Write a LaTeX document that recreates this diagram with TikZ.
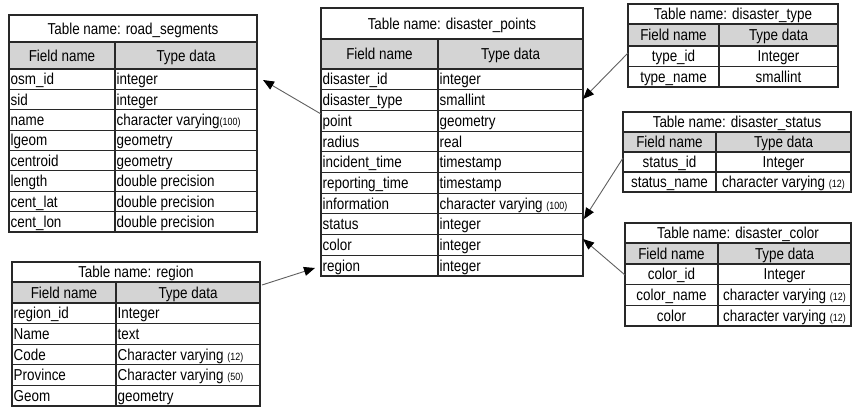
\documentclass[tikz,border=0pt]{standalone}
\usepackage{fontspec}
\setmainfont{Liberation Sans}[FakeStretch=0.85]
\usetikzlibrary{arrows.meta,fit}
\definecolor{hdr}{RGB}{212,212,212}
\definecolor{rulec}{RGB}{40,40,40}
\definecolor{arrc}{RGB}{95,95,95}
\newcommand{\sm}[1]{{\fontsize{10.5}{10.5}\selectfont #1}}
\tikzset{
  tblbox/.style={draw=rulec, line width=1.1pt, inner sep=0pt},
  tblline/.style={draw=rulec, line width=1.1pt},
  cell/.style={inner sep=1pt, font=\fontsize{15.8}{15.8}\selectfont, text=black},
  link/.style={draw=arrc, line width=0.9pt, -{Triangle[length=11pt,width=9pt,color=black]}}
}
% #1 id, #2 xl, #3 xdiv, #4 xr, #5 ytop, #6 title bottom, #7 header bottom, #8 ybottom, #9 title
\newcommand{\dbframe}[9]{%
  \fill[hdr] (#2,#6) rectangle (#4,#7);
  \draw[tblline] (#2,#6) -- (#4,#6);
  \draw[tblline] (#2,#7) -- (#4,#7);
  \draw[tblline] (#3,#6) -- (#3,#8);
  \node[tblbox, fit={(#2,#5) (#4,#8)}] (#1) {};
  \node[cell, anchor=base] (#1-title) at ({(#2+#4)/2},{(#5+#6)/2+5.6}) {#9};
  \node[cell, anchor=base] (#1-fh) at ({(#2+#3)/2},{(#6+#7)/2+5.6}) {Field name};
  \node[cell, anchor=base] (#1-th) at ({(#3+#4)/2},{(#6+#7)/2+5.6}) {Type data};
}
% #1 id, #2 field x, #3 type x, #4 anchor, #5 xl, #6 xr, #7 ytop, #8 row h, #9 list
\newcommand{\dbrows}[9]{%
  \foreach \fld/\typ [count=\i] in {#9} {
    \pgfmathsetmacro{\ybot}{#7+\i*#8}
    \pgfmathsetmacro{\ymid}{#7+(\i-0.5)*#8+5.6}
    \node[cell, anchor=#4] (#1-f\i) at (#2,\ymid) {\fld};
    \node[cell, anchor=#4] (#1-t\i) at (#3,\ymid) {\typ};
    \draw[tblline] (#5,\ybot) -- (#6,\ybot);
  }
}
\begin{document}
\begin{tikzpicture}[x=1pt,y=-1pt]
\useasboundingbox (0,0) rectangle (852,407);
% road_segments
\dbframe{rs}{9}{115}{257}{15}{42}{69}{232}{Table name: road\_segments}
\dbrows{rs}{9.5}{115.5}{base west}{9}{257}{69}{20.375}{osm\_id/integer, sid/integer, name/character varying\sm{(100)}, lgeom/geometry, centroid/geometry, length/double precision, cent\_lat/double precision, cent\_lon/double precision}
% disaster_points
\dbframe{dp}{321}{438}{583}{8}{39}{69}{276}{Table name: disaster\_points}
\dbrows{dp}{321.5}{438.5}{base west}{321}{583}{69}{20.7}{disaster\_id/integer, disaster\_type/smallint, point/geometry, radius/real, incident\_time/timestamp, reporting\_time/timestamp, information/character varying \sm{(100)}, status/integer, color/integer, region/integer}
% region
\dbframe{rg}{12}{116}{260}{262}{282}{303}{406}{Table name: region}
\dbrows{rg}{12.5}{116.5}{base west}{12}{260}{303}{20.6}{region\_id/Integer, Name/text, Code/Character varying \sm{(12)}, Province/Character varying \sm{(50)}, Geom/geometry}
% disaster_type
\dbframe{dt}{628}{719}{838}{4}{24}{46}{87}{Table name: disaster\_type}
\dbrows{dt}{673.5}{778.5}{base}{628}{838}{46}{20.5}{type\_id/Integer, type\_name/smallint}
% disaster_status
\dbframe{ds}{623}{716}{851}{112}{132}{152}{192}{Table name: disaster\_status}
\dbrows{ds}{669.5}{783.5}{base}{623}{851}{152}{20}{status\_id/Integer, status\_name/character varying \sm{(12)}}
% disaster_color
\dbframe{dc}{625}{718}{851}{223}{243}{264}{326}{Table name: disaster\_color}
\dbrows{dc}{671.5}{784.5}{base}{625}{851}{264}{20.67}{color\_id/Integer, color\_name/character varying \sm{(12)}, color/character varying \sm{(12)}}
% connectors
\coordinate (dp-point) at (321,114);
\coordinate (rs-in) at (263,80);
\coordinate (dt-out) at (628,53);
\coordinate (dp-type) at (583,99);
\coordinate (ds-out) at (623,158);
\coordinate (dp-status) at (584,219);
\coordinate (dc-out) at (625,275);
\coordinate (dp-color) at (583,239);
\coordinate (rg-out) at (262,285);
\coordinate (dp-region) at (315,268);
\draw[link] (dp-point) -- (rs-in);
\draw[link] (dt-out) -- (dp-type);
\draw[link] (ds-out) -- (dp-status);
\draw[link] (dc-out) -- (dp-color);
\draw[link] (rg-out) -- (dp-region);
\end{tikzpicture}
\end{document}
